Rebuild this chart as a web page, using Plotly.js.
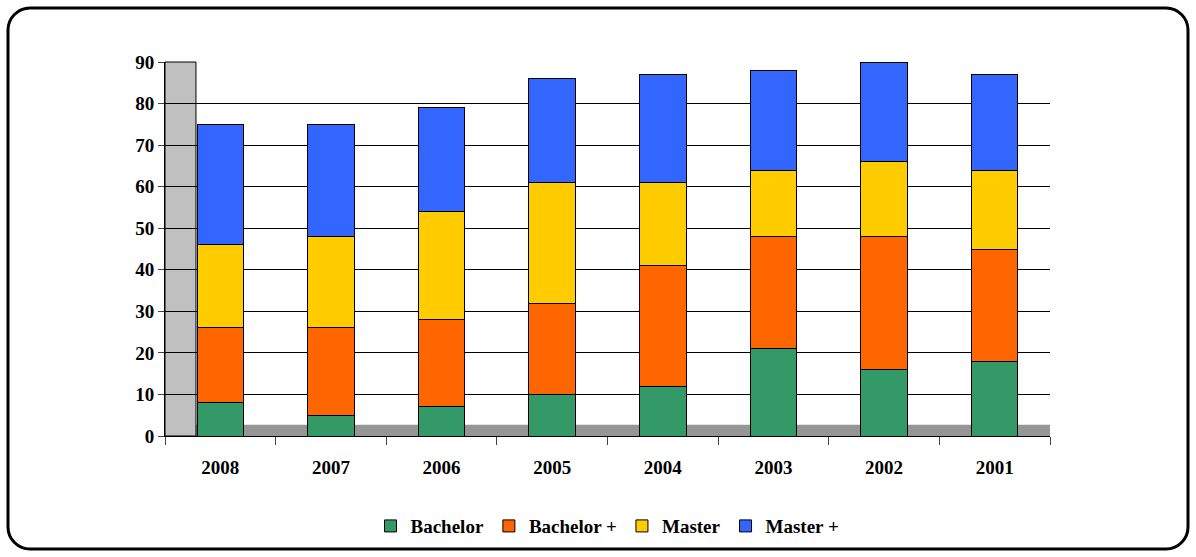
<!DOCTYPE html>
<html><head><meta charset="utf-8">
<script src="https://cdn.plot.ly/plotly-3.0.1.min.js"></script>
<style>body{margin:0;background:#fff}#chart{width:1196px;height:557px}</style>
</head><body><div id="chart"></div>
<script>
var years = ["2008","2007","2006","2005","2004","2003","2002","2001"];
var bachelor = [8, 5, 7, 10, 12, 21, 16, 18];
var bachelorPlus = [18, 21, 21, 22, 29, 27, 32, 27];
var master = [20, 22, 26, 29, 20, 16, 18, 19];
var masterPlus = [29, 27, 25, 25, 26, 24, 24, 23];
var yTicks = [0,10,20,30,40,50,60,70,80,90];

function series(name, vals, color) {
  return { type: "bar", name: name, x: years, y: vals,
    marker: { color: color, line: { color: "#000", width: 1 } } };
}
var data = [
  series("Bachelor", bachelor, "#339966"),
  series("Bachelor +", bachelorPlus, "#ff6600"),
  series("Master", master, "#ffcc00"),
  series("Master +", masterPlus, "#3366ff")
];
var bold = { family: "Liberation Serif", size: 19, weight: "bold", color: "#000" };
var layout = {
  width: 1196, height: 557, barmode: "stack", bargap: 0.58,
  margin: { l: 165, r: 146, t: 62, b: 115 },
  paper_bgcolor: "#fff", plot_bgcolor: "rgba(0,0,0,0)",
  font: bold,
  xaxis: { type: "category", categoryorder: "array", categoryarray: years,
    showline: true, linecolor: "#000", ticks: "outside", ticklen: 8,
    tickfont: bold, tickson: "boundaries", ticklabelstandoff: 14 },
  yaxis: { range: [0, 90], tickvals: yTicks, showgrid: true, gridcolor: "#000", gridwidth: 1,
    showline: true, linecolor: "#000", ticks: "outside", ticklen: 6, zeroline: false,
    tickfont: bold },
  legend: { orientation: "h", x: 0.5, xanchor: "center", y: -0.19, yanchor: "top",
    font: bold, traceorder: "normal" },
  shapes: [
    { type: "rect", xref: "paper", yref: "paper", x0: 0, x1: 1, y0: 0, y1: 0.03,
      fillcolor: "#969696", line: { width: 0 }, layer: "below" },
    { type: "rect", xref: "paper", yref: "paper", x0: 0, x1: 0.035, y0: 0, y1: 1,
      fillcolor: "#c0c0c0", line: { color: "#000", width: 1 }, layer: "below" }
  ]
};
Plotly.newPlot("chart", data, layout, { displayModeBar: false }).then(function () {
  var r = document.createElementNS("http://www.w3.org/2000/svg", "rect");
  r.setAttribute("x", 8); r.setAttribute("y", 8); r.setAttribute("width", 1180);
  r.setAttribute("height", 541); r.setAttribute("rx", 22);
  r.setAttribute("fill", "none"); r.setAttribute("stroke", "#000"); r.setAttribute("stroke-width", 3);
  document.querySelectorAll("#chart svg.main-svg")[1].appendChild(r);
});
</script></body></html>
